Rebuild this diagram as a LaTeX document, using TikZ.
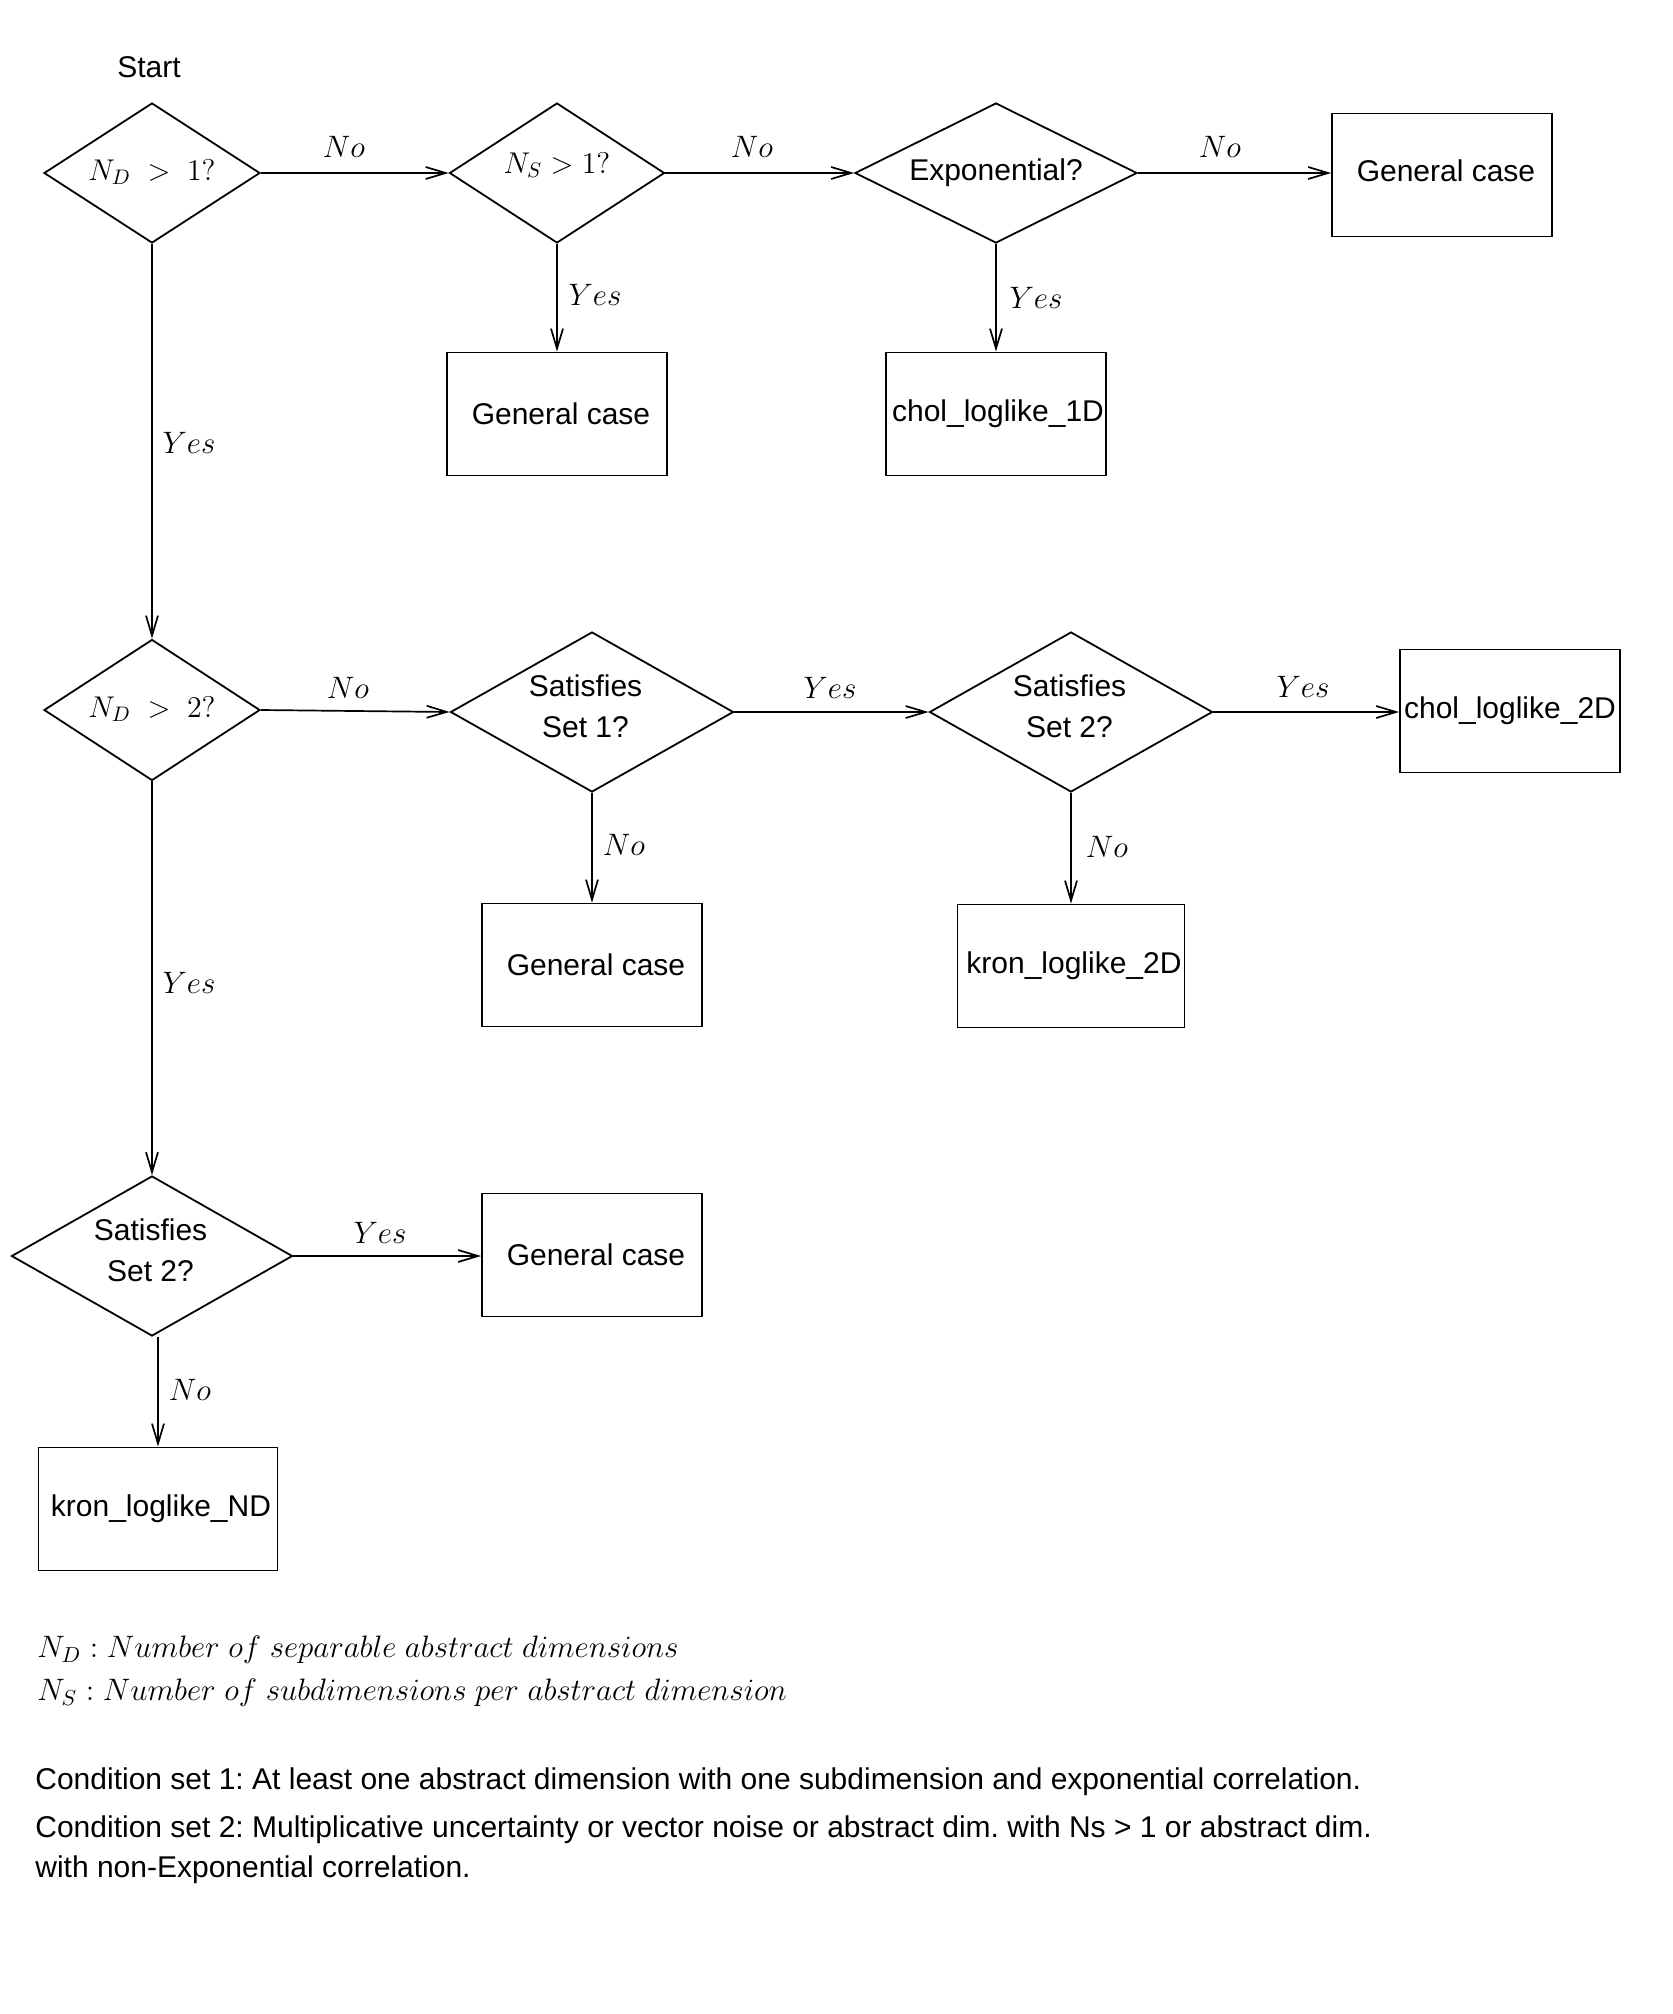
\RequirePackage{fix-cm}
\documentclass[tikz,border=0pt]{standalone}
\usepackage{fontspec}
\setmainfont{Liberation Sans}
\usetikzlibrary{arrows.meta,shapes.geometric}
\frenchspacing
\tikzset{
  sf/.style={font=\fontsize{15pt}{20.5pt}\selectfont},
  mf/.style={font=\fontsize{15.5pt}{19pt}\selectfont},
  dec/.style={draw, line width=0.9pt, shape=diamond, inner sep=0pt, align=center, sf},
  boxn/.style={draw, line width=0.9pt, rectangle, inner sep=0pt, minimum width=110pt, minimum height=61.5pt, align=center, sf},
  arr/.style={draw, line width=0.85pt, -{Straight Barb[length=10pt,width=6pt,line width=0.85pt]}},
  lab/.style={mf, inner sep=0pt},
}
\newcommand{\gencase}{\hspace*{4pt}General case}
\begin{document}
\begin{tikzpicture}[x=0.5pt,y=-0.5pt]
\useasboundingbox (0,0) rectangle (1672,2014);

\node[sf] (start) at (149,67) {Start};

% row 1
\node[dec, aspect=1.54, minimum width=108pt, minimum height=70pt, text depth=3pt] (d1) at (152,173) {$N_D\ >\ 1?$};
\node[dec, aspect=1.54, minimum width=107.5pt, minimum height=70pt, text depth=10pt] (d2) at (557,173) {$N_S>1?$};
\node[dec, aspect=2.0, minimum width=141pt, minimum height=70pt] (exp) at (996,173) {Exponential?};
\node[boxn, text depth=4pt] (gcr) at (1442,175) {\gencase};
\node[boxn] (gc1) at (557,414) {\gencase};
\node[boxn] (chol1) at (996,414) {\hspace*{2pt}chol\_loglike\_1D};

% row 2
\node[dec, aspect=1.54, minimum width=108pt, minimum height=70.5pt, text depth=3pt] (d3) at (152,710) {$N_D\ >\ 2?$};
\node[dec, aspect=1.77, minimum width=141.5pt, minimum height=80pt, text depth=6pt] (s1) at (592,712) {Satisfies\hspace*{6.5pt}\\Set 1?\hspace*{6.5pt}};
\node[dec, aspect=1.77, minimum width=141.5pt, minimum height=80pt, text depth=6pt] (s2) at (1071,712) {Satisfies\hspace*{1.5pt}\\Set 2?\hspace*{1.5pt}};
\node[boxn] (chol2) at (1510,711) {chol\_loglike\_2D};
\node[boxn] (gc2) at (592,965) {\gencase};
\node[boxn, minimum width=113.5pt] (kron2) at (1071,966) {\hspace*{3pt}kron\_loglike\_2D};

% row 3
\node[dec, aspect=1.76, minimum width=140.5pt, minimum height=80pt, text depth=6pt] (s3) at (152,1256) {Satisfies\hspace*{1.5pt}\\Set 2?\hspace*{1.5pt}};
\node[boxn] (gc3) at (592,1255) {\gencase};
\node[boxn, minimum width=119.5pt] (kronnd) at (158,1509) {\hspace*{3pt}kron\_loglike\_ND};

% connectors
\draw[arr] (d1.east) -- (d2.west);
\draw[arr] (d2.east) -- (exp.west);
\draw[arr] (exp.east) -- (exp.east -| gcr.west);
\draw[arr] (d2.south) -- (gc1.north);
\draw[arr] (exp.south) -- (chol1.north);
\draw[arr] (d1.south) -- (d3.north);
\draw[arr] (d3.east) -- (s1.west);
\draw[arr] (s1.east) -- (s2.west);
\draw[arr] (s2.east) -- (s2.east -| chol2.west);
\draw[arr] (s1.south) -- (gc2.north);
\draw[arr] (s2.south) -- (kron2.north);
\draw[arr] (d3.south) -- (s3.north);
\draw[arr] (s3.east) -- (s3.east -| gc3.west);
\draw[arr] (kronnd.north |- s3.south) -- (kronnd.north);

% labels
\node[lab] (l1) at (344,147) {$No$};
\node[lab] (l2) at (752,147) {$No$};
\node[lab] (l3) at (1220,147) {$No$};
\node[lab] (l4) at (595,295) {$Yes$};
\node[lab] (l5) at (1036,298) {$Yes$};
\node[lab] (l6) at (189,443) {$Yes$};
\node[lab] (l7) at (348,688) {$No$};
\node[lab] (l8) at (830,688) {$Yes$};
\node[lab] (l9) at (1303,687) {$Yes$};
\node[lab] (l10) at (624,845) {$No$};
\node[lab] (l11) at (1107,847) {$No$};
\node[lab] (l12) at (189,983) {$Yes$};
\node[lab] (l13) at (380,1233) {$Yes$};
\node[lab] (l14) at (190,1390) {$No$};

% legend
\node[mf, anchor=west, inner sep=0pt] (leg1) at (37,1650) {$N_D: Number\ of\ separable\ abstract\ dimensions$};
\node[mf, anchor=west, inner sep=0pt] (leg2) at (37,1693) {$N_S: Number\ of\ subdimensions\ per\ abstract\ dimension$};
\node[sf, anchor=west, inner sep=0pt] (c1) at (35,1782) {Condition set 1: At least one abstract dimension with one subdimension and exponential correlation.};
\node[sf, anchor=west, inner sep=0pt] (c2) at (35,1830) {Condition set 2: Multiplicative uncertainty or vector noise or abstract dim. with Ns > 1 or abstract dim.};
\node[sf, anchor=west, inner sep=0pt] (c3) at (35,1870) {with non-Exponential correlation.};
\end{tikzpicture}
\end{document}
